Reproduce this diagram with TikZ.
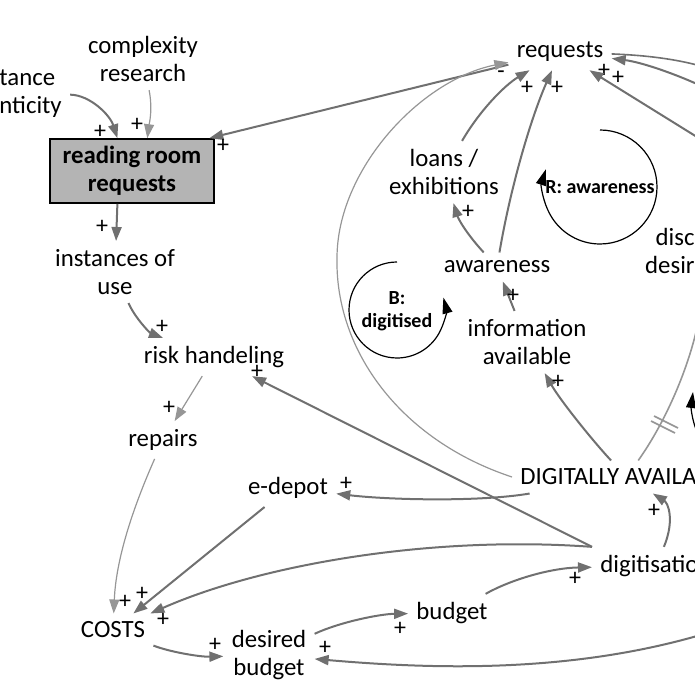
\documentclass[tikz,border=0pt]{standalone}
\usepackage{fontspec}
\setmainfont{Carlito}
\usetikzlibrary{arrows.meta}
\definecolor{linegray}{RGB}{112,112,112}
\definecolor{thingray}{RGB}{150,150,150}
\definecolor{boxgray}{RGB}{180,180,180}
\begin{document}
\begin{tikzpicture}[x=0.5pt, y=-0.5pt,
    var/.style={font=\fontsize{12.4}{14}\selectfont, align=center, inner sep=4pt},
    rrbox/.style={draw=black, line width=0.8pt, fill=boxgray, minimum width=82pt,
        minimum height=32pt, align=center, font=\bfseries\fontsize{12.4}{14}\selectfont},
    sign/.style={font=\fontsize{12}{12}\selectfont, inner sep=0pt},
    looptext/.style={font=\bfseries\fontsize{10}{11.5}\selectfont, align=center},
    arr/.style={draw=linegray, line width=1pt, -{Triangle[length=7pt,width=5pt]}},
    thinarr/.style={arr, draw=thingray, line width=0.6pt},
    link/.style={draw=linegray, line width=0.8pt},
    loopline/.style={draw=black, line width=0.6pt, -{Triangle[length=8pt,width=5pt]}}]
    \useasboundingbox (0,0) rectangle (695,694);
    \clip (0,0) rectangle (695,694);

    % variables
    \node[var, anchor=west, align=left] (accept) at (-9,94) {tance\\nticity};
    \node[var] (complexity) at (143,59) {complexity\\research};
    \node[rrbox] (rrr) at (132,171) {reading room\\requests};
    \node[var] (instances) at (115,272) {instances of\\use};
    \node[var] (risk) at (214,357) {risk handeling};
    \node[var] (repairs) at (163,440) {repairs};
    \node[var] (edepot) at (288,488) {e-depot};
    \node[var] (costs) at (113,630) {COSTS};
    \node[var] (desired) at (269,655) {desired\\budget};
    \node[var] (budget) at (452,613) {budget};
    \node[var, anchor=west] (digit) at (592,566) {digitisation};
    \node[var, anchor=west] (digavail) at (512,477) {DIGITALLY AVAILABLE};
    \node[var] (info) at (527,342) {information\\available};
    \node[var] (awareness) at (497,267) {awareness};
    \node[var] (loans) at (444,172) {loans /\\exhibitions};
    \node[var] (requests) at (560,52) {requests};
    \node[var, anchor=east, align=right] (disc) at (703,251) {disc\\desir};

    % loop labels
    \node[looptext] (rloop) at (600,187) {R: awareness};
    \node[looptext] (bloop) at (397,311) {B:\\digitised};
    \draw[loopline] (600,130) arc[start angle=-90, end angle=198, radius=57];
    \draw[loopline] (397,262) arc[start angle=-90, end angle=-375, radius=48];
    \draw[loopline] (697,432) .. controls (692,420) and (691,408) .. (693,392);

    % free ends at the edge
    \coordinate (er1) at (697,65);
    \coordinate (er2) at (697,84);
    \coordinate (er3) at (697,137);
    \coordinate (ed) at (697,328);
    \coordinate (eb) at (697,636);

    % left chain
    \draw[arr] (accept) .. controls (90,95) and (110,115) .. (rrr.114)
        node[sign] at (100,132) {+};
    \draw[thinarr] (complexity) .. controls (153,110) and (149,125) .. (rrr.65)
        node[sign] at (137,125) {+};
    \draw[arr] (requests) -- (rrr.23) node[sign] at (223,146) {+};
    \draw[arr] (rrr.246) -- (instances) node[sign] at (102,227) {+};
    \draw[arr] (instances) .. controls (135,318) and (150,333) .. (risk)
        node[sign] at (162,327) {+};
    \draw[thinarr] (risk) -- (repairs) node[sign] at (169,408) {+};
    \draw[thinarr] (repairs) .. controls (132,510) and (116,560) .. (costs)
        node[sign] at (125,602) {+};
    \draw[arr] (edepot) -- (costs) node[sign] at (142,594) {+};
    \draw[arr] (digit.north west) .. controls (430,535) and (260,565) .. (costs)
        node[sign] at (163,620) {+};
    \draw[arr] (digit.north west) -- (risk) node[sign] at (257,372) {+};

    % budget chain
    \draw[arr] (costs) .. controls (170,652) and (200,657) .. (desired)
        node[sign] at (215,645) {+};
    \draw[arr] (eb) .. controls (560,675) and (420,668) .. (desired)
        node[sign] at (325,648) {+};
    \draw[arr] (desired) .. controls (340,622) and (380,614) .. (budget)
        node[sign] at (400,629) {+};
    \draw[arr] (budget) .. controls (510,580) and (550,568) .. (digit)
        node[sign] at (575,579) {+};
    \draw[arr] (digit) .. controls (675,520) and (668,503) .. (digavail)
        node[sign] at (654,511) {+};
    \draw[arr] (digavail) .. controls (480,502) and (390,500) .. (edepot)
        node[sign] at (346,484) {+};

    % awareness chain
    \draw[arr] (digavail) .. controls (592,440) and (560,400) .. (info)
        node[sign] at (558,382) {+};
    \draw[arr] (info) -- (awareness) node[sign] at (513,296) {+};
    \draw[arr] (awareness) .. controls (465,232) and (458,218) .. (loans)
        node[sign] at (468,212) {+};
    \draw[arr] (loans) .. controls (480,110) and (505,85) .. (requests)
        node[sign] at (527,88) {+};
    \draw[arr] (awareness) .. controls (510,190) and (530,120) .. (requests)
        node[sign] at (557,88) {+};
    \draw[thinarr] (digavail.west) .. controls (400,440) and (335,350) .. (337,258)
        .. controls (337,170) and (420,80) .. (requests)
        node[sign] at (501,75) {-};

    % links at the right edge
    \draw[link] (requests) .. controls (640,55) and (670,58) .. (er1);
    \draw[arr] (er2) .. controls (670,72) and (640,62) .. (requests)
        node[sign] at (604,71) {+};
    \draw[arr] (er3) -- (requests) node[sign] at (618,78) {+};
    \draw[link, draw=thingray] (digavail) .. controls (660,430) and (685,380) .. (ed);
    \draw[thingray, line width=0.8pt] (651,421) -- (675,433);
    \draw[thingray, line width=0.8pt] (654,416) -- (678,428);
\end{tikzpicture}
\end{document}
